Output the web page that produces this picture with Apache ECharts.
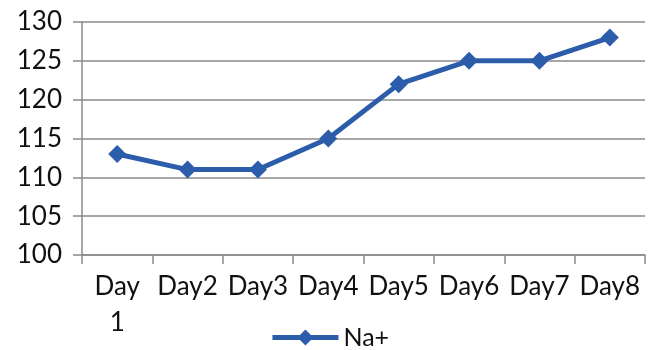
<!DOCTYPE html>
<html>
<head>
<meta charset="utf-8">
<script src="https://cdn.jsdelivr.net/npm/echarts@6/dist/echarts.min.js"></script>
<style>
  html, body { margin: 0; padding: 0; background: #fff; }
  #chart { width: 659px; height: 350px; }
</style>
</head>
<body>
<div id="chart"></div>
<script>
// Daily sodium readings
const days = ['Day\n1', 'Day2', 'Day3', 'Day4', 'Day5', 'Day6', 'Day7', 'Day8'];
const sodium = [113, 111, 111, 115, 122, 125, 125, 128];
const seriesName = 'Na+';

const lineColor = '#2C5DAA';
const fontFamily = 'Lato, "Open Sans", sans-serif';

const chart = echarts.init(document.getElementById('chart'), null, { renderer: 'canvas' });
chart.setOption({
  animation: false,
  backgroundColor: '#ffffff',
  grid: { left: 82, right: 14, top: 22, bottom: 95, containLabel: false },
  legend: {
    top: 320,
    left: 'center',
    itemWidth: 66,
    itemHeight: 20,
    itemGap: 6,
    lineStyle: { width: 5 },
    textStyle: { fontFamily, fontSize: 25, color: '#111' },
    data: [seriesName]
  },
  xAxis: {
    type: 'category',
    data: days,
    boundaryGap: true,
    axisLine: { show: true, lineStyle: { color: '#8a8a8a', width: 1.5 } },
    axisTick: { show: true, length: 9, alignWithLabel: false, lineStyle: { color: '#8a8a8a', width: 1.5 } },
    axisLabel: {
      fontFamily, fontSize: 26, color: '#111', margin: 14, interval: 0, lineHeight: 36
    }
  },
  yAxis: {
    type: 'value',
    min: 100,
    max: 130,
    interval: 5,
    axisLine: { show: true, lineStyle: { color: '#8a8a8a', width: 1.5 } },
    axisTick: { show: true, length: 9, inside: false, lineStyle: { color: '#8a8a8a', width: 1.5 } },
    axisLabel: { fontFamily, fontSize: 26, color: '#111', margin: 20 },
    splitLine: { show: true, lineStyle: { color: '#8a8a8a', width: 1.5 } }
  },
  series: [{
    name: seriesName,
    type: 'line',
    data: sodium,
    symbol: 'diamond',
    symbolSize: 18,
    lineStyle: { color: lineColor, width: 5 },
    itemStyle: { color: lineColor },
    z: 3
  }]
});
</script>
</body>
</html>
